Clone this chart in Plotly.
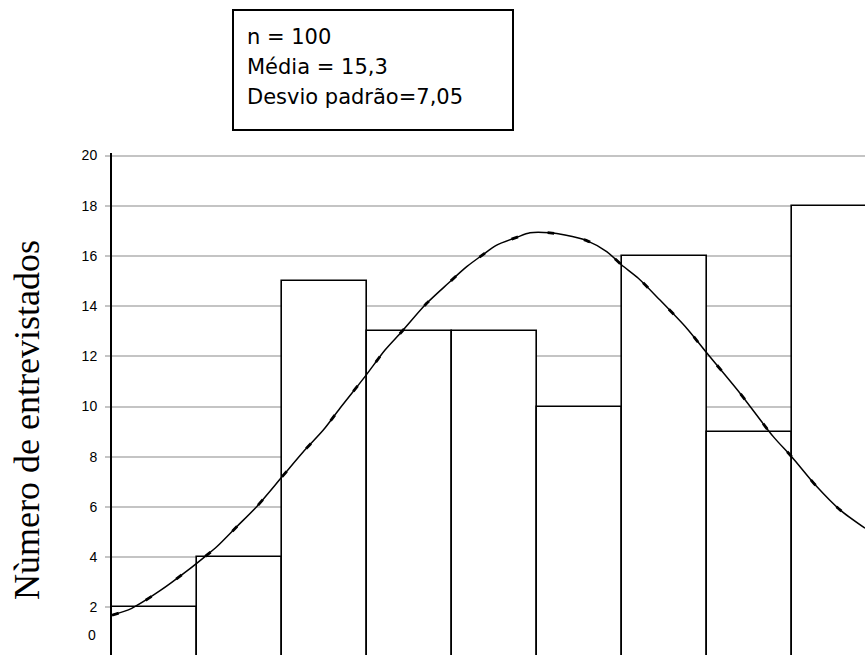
import plotly.graph_objects as go

# Histogram classes (bar index) and counts
class_pos = [0, 1, 2, 3, 4, 5, 6, 7, 8]
counts = [2, 4, 15, 13, 13, 10, 16, 9, 18]

# Fitted normal curve (x in class-position units)
curve_x = [-0.5, -0.268, 0.065, 0.398, 0.594, 0.732, 0.967, 1.202, 1.496, 1.751,
           1.986, 2.182, 2.476, 2.712, 2.908, 3.202, 3.456, 3.673, 3.868, 4.026,
           4.261, 4.418, 4.653, 4.829, 5.085, 5.320, 5.496, 5.692, 5.947, 6.261,
           6.496, 6.888, 7.280, 7.496, 7.791, 8.065, 8.359]
curve_y = [1.69, 1.96, 2.66, 3.49, 4.02, 4.41, 5.21, 6.01, 7.18, 8.20,
           9.06, 9.93, 11.19, 12.25, 12.98, 14.11, 14.91, 15.57, 16.06, 16.43,
           16.74, 16.92, 16.92, 16.83, 16.61, 16.17, 15.64, 15.11, 14.24, 13.12,
           12.14, 10.53, 8.80, 8.00, 6.81, 5.88, 5.15]

y_ticks = [2, 4, 6, 8, 10, 12, 14, 16, 18, 20]
stats_lines = ["n = 100", "Média = 15,3", "Desvio padrão=7,05"]
y_title = "Nùmero de entrevistados"

W, H = 865, 655
ml, mt = 112, 153
plot_w = W - ml
plot_h = H - mt


def px_x(p):
    return (p - ml) / plot_w


def px_y(p):
    return (H - p) / plot_h


fig = go.Figure()
fig.add_trace(go.Bar(
    x=class_pos, y=counts, width=1,
    marker=dict(color="white", line=dict(color="black", width=1.6)),
    showlegend=False, hoverinfo="skip",
))
fig.add_trace(go.Scatter(
    x=curve_x, y=curve_y, mode="lines",
    line=dict(color="black", width=1.5, shape="spline", smoothing=0.8),
    showlegend=False, hoverinfo="skip",
))
fig.add_trace(go.Scatter(
    x=curve_x, y=curve_y, mode="lines",
    line=dict(color="black", width=2.8, shape="spline", smoothing=0.8, dash="7px,30px"),
    showlegend=False, hoverinfo="skip",
))

fig.update_layout(
    width=W, height=H,
    margin=dict(l=ml, r=0, t=mt, b=0, pad=0),
    plot_bgcolor="white", paper_bgcolor="white",
    bargap=0,
    xaxis=dict(range=[-0.5, -0.5 + plot_w / 85.0], showgrid=False, zeroline=False,
               showline=False, showticklabels=False, ticks=""),
    yaxis=dict(range=[0.1, 20.1], tickvals=y_ticks, showgrid=True,
               gridcolor="#c4c4c4", gridwidth=2, zeroline=False,
               showline=True, linecolor="black", linewidth=2,
               ticks="outside", ticklen=5, tickwidth=2, tickcolor="#c4c4c4",
               ticklabelstandoff=5,
               tickfont=dict(family="Liberation Sans, Arial", size=14, color="black")),
)

# "0" tick label (shown shifted up in the original)
fig.add_annotation(xref="paper", yref="y", x=0, y=0.9, text="0", showarrow=False,
                   xanchor="right", yanchor="middle", xshift=-14,
                   font=dict(family="Liberation Sans, Arial", size=14, color="black"))

# Y axis title
fig.add_annotation(xref="paper", yref="paper", x=px_x(27), y=px_y(420),
                   text=y_title, textangle=-90, showarrow=False,
                   xanchor="center", yanchor="middle",
                   font=dict(family="Liberation Serif, Times New Roman", size=36, color="black"))

# Stats box
fig.add_shape(type="rect", xref="paper", yref="paper",
              x0=px_x(233), x1=px_x(513), y0=px_y(130), y1=px_y(10),
              line=dict(color="black", width=2), fillcolor="white", layer="above")
for i, line_text in enumerate(stats_lines):
    cy = 37 + 30 * i
    fig.add_annotation(xref="paper", yref="paper", x=px_x(245), y=px_y(cy),
                       text=line_text, showarrow=False, xanchor="left", yanchor="middle",
                       font=dict(family="DejaVu Sans", size=21, color="black"))

fig.write_html(
    "out.html",
    config={"displayModeBar": False},
    post_script="document.body.style.margin='0';document.body.style.overflow='hidden';",
)
